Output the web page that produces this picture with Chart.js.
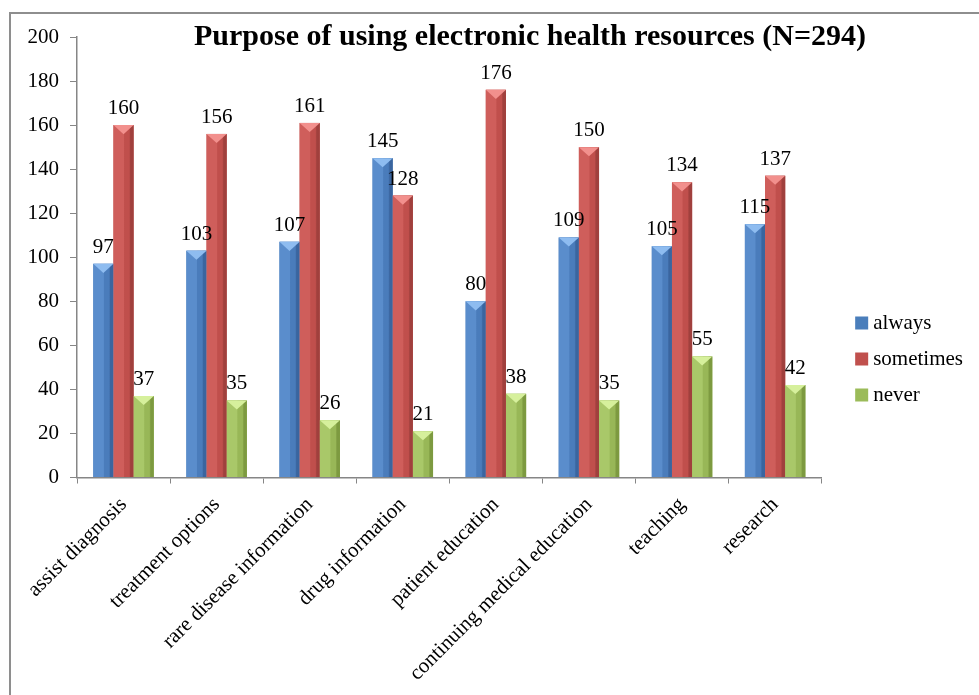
<!DOCTYPE html>
<html>
<head>
<meta charset="utf-8">
<script src="https://cdn.jsdelivr.net/npm/chart.js@4.4.1/dist/chart.umd.min.js"></script>
<style>
html,body{margin:0;padding:0;background:#fff;}
#wrap{position:relative;width:979px;height:695px;overflow:hidden;}
#frame{position:absolute;left:9px;top:12px;width:1000px;height:700px;border-left:2px solid #8e8e8e;border-top:2px solid #8e8e8e;box-sizing:border-box;pointer-events:none;}
#title{position:absolute;left:530px;top:18px;transform:translateX(-50%);white-space:nowrap;font:bold 30px "Liberation Serif","Times New Roman",serif;line-height:34px;color:#000;}
canvas{position:absolute;left:0;top:0;}
</style>
</head>
<body>
<div id="wrap">
<canvas id="c" width="979" height="695"></canvas>
<div id="frame"></div>
<div id="title">Purpose of using electronic health resources (N=294)</div>
</div>
<script>
const categories = ["assist diagnosis","treatment options","rare disease information","drug information","patient education","continuing medical education","teaching","research"];
const seriesNames = ["always","sometimes","never"];
const always = [97,103,107,145,80,109,105,115];
const sometimes = [160,156,161,128,176,150,134,137];
const never = [37,35,26,21,38,35,55,42];
const yTicks = [0,20,40,60,80,100,120,140,160,180,200];

const PAL = [
  {base:'#4a7ebb', light:'#5a8dcc', mid:'#4a7cbb', dark:'#3a659f', top:'#8ebcf0'},
  {base:'#c0504d', light:'#cf5e5b', mid:'#c04f4c', dark:'#a0403d', top:'#f2908d'},
  {base:'#9bbb59', light:'#a9c869', mid:'#98b757', dark:'#7d9a40', top:'#d6f09c'}
];
const SERIF = '"Liberation Serif","Times New Roman",serif';

const barFx = {
  id:'barFx',
  afterDatasetsDraw(chart){
    const ctx = chart.ctx;
    ctx.save();
    chart.data.datasets.forEach((ds,i)=>{
      const meta = chart.getDatasetMeta(i);
      if(meta.hidden) return;
      const p = PAL[i];
      meta.data.forEach(bar=>{
        const {x,y,base,width} = bar.getProps(['x','y','base','width'],true);
        const l = x-width/2, r = x+width/2, h = base-y;
        const g = ctx.createLinearGradient(l,0,r,0);
        g.addColorStop(0,p.light); g.addColorStop(0.5,p.light);
        g.addColorStop(0.55,p.mid); g.addColorStop(0.78,p.mid);
        g.addColorStop(0.85,p.dark); g.addColorStop(1,p.dark);
        ctx.fillStyle = g;
        ctx.fillRect(l,y,width,h);
        const th = Math.min(width*0.45,h);
        ctx.fillStyle = p.top;
        ctx.beginPath();
        ctx.moveTo(l,y); ctx.lineTo(r,y); ctx.lineTo(x,y+th); ctx.closePath();
        ctx.fill();
      });
    });
    ctx.restore();
  }
};

const valueLabels = {
  id:'valueLabels',
  afterDatasetsDraw(chart){
    const ctx = chart.ctx;
    ctx.save();
    ctx.font = '21px '+SERIF;
    ctx.fillStyle = '#000';
    ctx.textAlign = 'center';
    ctx.textBaseline = 'bottom';
    chart.data.datasets.forEach((ds,i)=>{
      const meta = chart.getDatasetMeta(i);
      meta.data.forEach((bar,j)=>{
        ctx.fillText(String(ds.data[j]), bar.x, bar.y-6);
      });
    });
    ctx.restore();
  }
};

const legendShift = {
  id:'legendShift',
  afterLayout(chart){
    if(chart.legend){ chart.legend.top -= 7; chart.legend.bottom -= 7; }
  }
};

new Chart(document.getElementById('c'),{
  type:'bar',
  data:{
    labels:categories,
    datasets:[
      {label:seriesNames[0],data:always,backgroundColor:PAL[0].base,yAxisID:'y'},
      {label:seriesNames[1],data:sometimes,backgroundColor:PAL[1].base,yAxisID:'y'},
      {label:seriesNames[2],data:never,backgroundColor:PAL[2].base,yAxisID:'y'}
    ]
  },
  options:{
    responsive:false,
    animation:false,
    datasets:{bar:{categoryPercentage:0.65,barPercentage:1}},
    layout:{padding:{top:37,left:0,right:6,bottom:0}},
    plugins:{
      title:{display:false},
      tooltip:{enabled:false},
      legend:{
        position:'right',
        labels:{font:{family:SERIF,size:21},color:'#000',usePointStyle:true,pointStyle:'rect',boxWidth:2,boxHeight:13,padding:15}
      }
    },
    scales:{
      x:{
        offset:true,
        grid:{display:true,drawOnChartArea:false,drawTicks:true,tickLength:6,color:'#868686',offset:true},
        border:{display:true,color:'#868686',width:1.5},
        ticks:{font:{family:SERIF,size:21},color:'#000',minRotation:45,maxRotation:45,autoSkip:false,padding:9}
      },
      y:{
        min:0,max:200,
        afterBuildTicks(ax){ax.ticks = yTicks.map(v=>({value:v}));},
        afterFit(ax){ax.width = 77;},
        grid:{display:true,drawOnChartArea:false,drawTicks:true,tickLength:7,color:'#868686'},
        border:{display:true,color:'#868686',width:1.5},
        ticks:{font:{family:SERIF,size:21},color:'#000',padding:11}
      },
      gap:{
        position:'right',
        display:true,
        afterFit(ax){ax.width = 24;},
        grid:{display:false},
        border:{display:false},
        ticks:{display:false}
      }
    }
  },
  plugins:[barFx,valueLabels,legendShift]
});
</script>
</body>
</html>
